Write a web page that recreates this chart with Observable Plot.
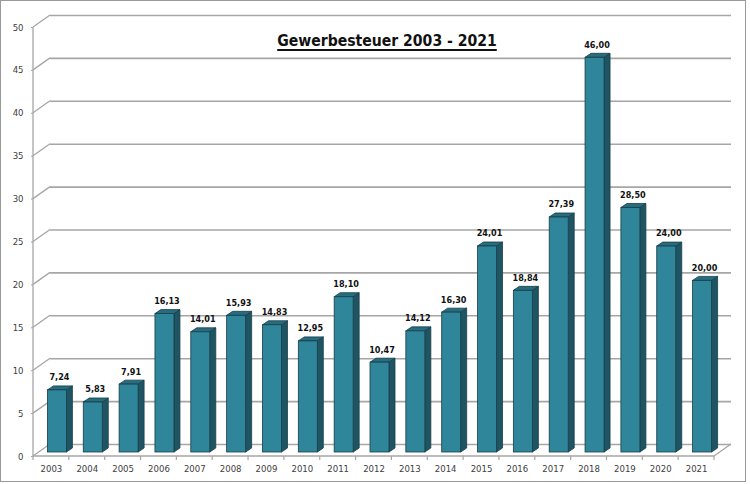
<!DOCTYPE html>
<html>
<head>
<meta charset="utf-8">
<script src="https://cdn.jsdelivr.net/npm/d3@7"></script>
<script src="https://cdn.jsdelivr.net/npm/@observablehq/plot@0.6"></script>
<style>
  html, body { margin: 0; padding: 0; background: #fff; }
  #wrap { position: relative; width: 750px; height: 484px; overflow: hidden; }
  #border { position: absolute; left: 0; top: 0; width: 746px; height: 482px; border: 1.5px solid #9a9a9a; box-sizing: border-box; pointer-events: none; }
  #title { position: absolute; left: 387px; top: 34px; transform: translateX(-50%);
    font-family: "DejaVu Sans Condensed", "DejaVu Sans", sans-serif; font-weight: bold; font-size: 15.6px;
    text-decoration: underline; text-decoration-thickness: 1.5px; text-underline-offset: 3px; color: #111; white-space: nowrap; line-height: 1; }
  svg text { font-family: "DejaVu Sans Condensed", "DejaVu Sans", sans-serif; }
</style>
</head>
<body>
<div id="wrap">
  <div id="chart"></div>
  <div id="title">Gewerbesteuer 2003 - 2021</div>
  <div id="border"></div>
</div>
<script>
const years = ["2003","2004","2005","2006","2007","2008","2009","2010","2011","2012","2013","2014","2015","2016","2017","2018","2019","2020","2021"];
const values = [7.24,5.83,7.91,16.13,14.01,15.93,14.83,12.95,18.10,10.47,14.12,16.30,24.01,18.84,27.39,46.00,28.50,24.00,20.00];
const yTicks = [0,5,10,15,20,25,30,35,40,45,50];

const data = years.map((year, i) => ({year, value: values[i], label: values[i].toFixed(2).replace(".", ",")}));

// 3D geometry (pixels)
const WALL_DX = 17, WALL_DY = -12;   // depth of the floor / back wall
const BAR_W = 19, BAR_DX = 6, BAR_DY = -4; // bar face width and bar depth
const BAR_SHIFT_X = 6, BAR_SHIFT_Y = -4;  // bar position inside the floor depth

const FRONT = "#2f8599", SIDE = "#1f5563", TOP = "#276d80", EDGE = "#173d47", GRID = "#a6a6a6";

function scaffold(index, scales, values_, dims) {
  const x = scales.x, y = scales.y;
  const g = d3.create("svg:g");
  const left = dims.marginLeft, right = dims.width - dims.marginRight;
  const y0 = y(0);
  const bw = x(years[1]) - x(years[0]);
  // diagonal connectors from axis ticks to back wall
  for (const t of yTicks) {
    g.append("line").attr("x1", left).attr("y1", y(t)).attr("x2", left + WALL_DX).attr("y2", y(t) + WALL_DY)
      .attr("stroke", GRID).attr("stroke-width", 1.3);
  }
  // y axis line
  g.append("line").attr("x1", left).attr("x2", left).attr("y1", y(50)).attr("y2", y0)
    .attr("stroke", GRID).attr("stroke-width", 1.3);
  // floor front edge and right diagonal
  g.append("line").attr("x1", left).attr("x2", right).attr("y1", y0).attr("y2", y0)
    .attr("stroke", GRID).attr("stroke-width", 1.3);
  g.append("line").attr("x1", right).attr("y1", y0).attr("x2", right + WALL_DX).attr("y2", y0 + WALL_DY)
    .attr("stroke", GRID).attr("stroke-width", 1.3);
  // x ticks at category boundaries
  for (let i = 0; i <= years.length; i++) {
    const xx = x(years[0]) + i * bw;
    g.append("line").attr("x1", xx).attr("x2", xx).attr("y1", y0).attr("y2", y0 + 4)
      .attr("stroke", GRID).attr("stroke-width", 1.2);
  }
  // bars
  data.forEach(d => {
    const cx = x(d.year) + bw / 2 + BAR_SHIFT_X;
    const xl = cx - BAR_W / 2, xr = cx + BAR_W / 2;
    const yb = y0 + BAR_SHIFT_Y, yt = y(d.value) + BAR_SHIFT_Y;
    const pts = a => a.map(p => p.join(",")).join(" ");
    g.append("polygon").attr("points", pts([[xr, yt], [xr + BAR_DX, yt + BAR_DY], [xr + BAR_DX, yb + BAR_DY], [xr, yb]]))
      .attr("fill", SIDE).attr("stroke", EDGE).attr("stroke-width", 0.8).attr("stroke-linejoin", "round");
    g.append("polygon").attr("points", pts([[xl, yt], [xl + BAR_DX, yt + BAR_DY], [xr + BAR_DX, yt + BAR_DY], [xr, yt]]))
      .attr("fill", TOP).attr("stroke", EDGE).attr("stroke-width", 0.8).attr("stroke-linejoin", "round");
    g.append("rect").attr("x", xl).attr("y", yt).attr("width", BAR_W).attr("height", yb - yt)
      .attr("fill", FRONT).attr("stroke", EDGE).attr("stroke-width", 0.8);
  });
  return g.node();
}

const chart = Plot.plot({
  width: 750,
  height: 484,
  marginLeft: 33,
  marginRight: 36,
  marginTop: 27,
  marginBottom: 28,
  style: {background: "transparent", overflow: "visible"},
  x: {type: "band", domain: years, padding: 0, round: false, label: null},
  y: {domain: [0, 50], label: null},
  marks: [
    Plot.ruleY(yTicks, {dx: WALL_DX, dy: WALL_DY, stroke: GRID, strokeWidth: 1.6}),
    scaffold,
    Plot.axisY({ticks: yTicks, tickSize: 2, tickPadding: 8, stroke: GRID, fill: "#404040", fontSize: 9.5, label: null}),
    Plot.axisX({tickSize: 0, tickPadding: 9, fill: "#404040", fontSize: 9.5, label: null}),
    Plot.text(data, {x: "year", y: "value", text: "label", dx: BAR_SHIFT_X + 2, dy: -17,
      fontSize: 9, fontWeight: "bold", fill: "#111", lineAnchor: "middle"})
  ]
});
document.getElementById("chart").appendChild(chart);
</script>
</body>
</html>
